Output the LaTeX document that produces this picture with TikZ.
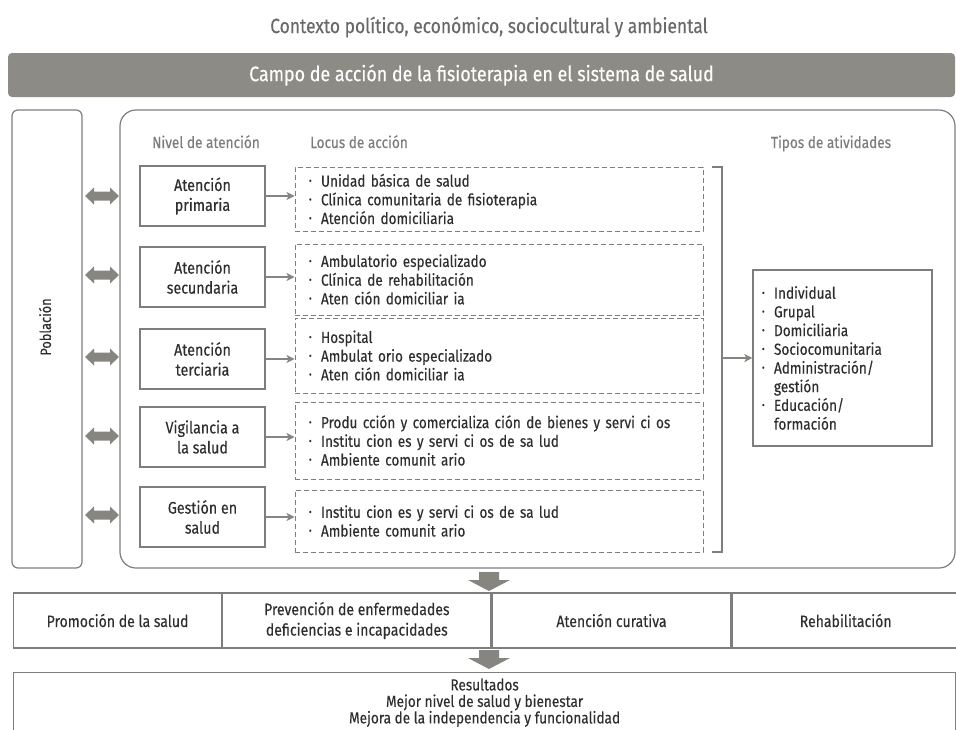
\documentclass[tikz,border=0pt]{standalone}
\usepackage{fontspec}
\setmainfont{Fira Sans}[FakeStretch=0.85, FakeBold=0.3]
\usetikzlibrary{arrows.meta,positioning}

\definecolor{barfill}{HTML}{8D8B85}
\definecolor{linegray}{HTML}{7E7E7E}
\definecolor{arrowgray}{HTML}{86857F}
\definecolor{txtgray}{HTML}{2E2E2E}
\definecolor{hdrgray}{HTML}{7C7C7C}

% bullet with fixed indent, and indent for a wrapped line
\newcommand{\bitem}{\makebox[12pt][l]{\raisebox{.3ex}{\scalebox{.6}{\textbullet}}}}
\newcommand{\bcont}{\hspace*{12pt}}

\tikzset{
  hdr/.style={text=hdrgray, font=\fontsize{16}{19}\selectfont, inner sep=0pt, anchor=base},
  lvlbox/.style={draw=linegray, line width=1.2pt, minimum width=125pt, minimum height=60pt,
    align=center, text=txtgray, font=\fontsize{16.8}{20}\selectfont},
  locbox/.style={draw=linegray, line width=0.9pt, dash pattern=on 5pt off 3pt,
    minimum width=408pt, text width=380pt, inner xsep=14pt, align=left,
    text=txtgray, font=\fontsize{16}{18.7}\selectfont},
  conn/.style={-{Stealth[length=8pt,width=8pt,inset=2pt]}, draw=arrowgray, line width=1.8pt},
  cell/.style={draw=linegray, line width=1.2pt, minimum height=55pt, inner sep=0pt,
    align=center, text=txtgray, font=\fontsize{16.5}{20.5}\selectfont},
  % block arrows
  dblarr/.pic={\fill[arrowgray] (-17,0) -- (-8,-8.5) -- (-8,-4.5) -- (8,-4.5) -- (8,-8.5)
    -- (17,0) -- (8,8.5) -- (8,4.5) -- (-8,4.5) -- (-8,8.5) -- cycle;},
  downarr/.pic={\fill[arrowgray] (-10,-9.5) -- (10,-9.5) -- (10,-1.5) -- (21,-1.5)
    -- (0,9.5) -- (-21,-1.5) -- (-10,-1.5) -- cycle;},
}

\begin{document}
\begin{tikzpicture}[x=1pt, y=-1pt]
\useasboundingbox (0,0) rectangle (956,729);

% context line and title bar
\node[text=hdrgray!85!black, font=\fontsize{20.5}{23}\selectfont] (ctx) at (489,27)
  {Contexto político, económico, sociocultural y ambiental};
\node[fill=barfill, rounded corners=4pt, minimum width=947pt, minimum height=44pt,
  text=white, font=\fontsize{21}{24}\selectfont] (campo) at (481.5,75)
  {Campo de acción de la fisioterapia en el sistema de salud};

% population column and the large frame
\node[draw=linegray, line width=1.2pt, rounded corners=6pt,
  minimum width=70pt, minimum height=458pt] (pob) at (47,339) {};
\node[rotate=90, text=txtgray, font=\fontsize{15}{18}\selectfont] (pobtxt) at (45,327) {Población};
\node[draw=linegray, line width=1.2pt, rounded corners=16pt,
  minimum width=835pt, minimum height=458pt] (area) at (537.5,339) {};

% column headers
\node[hdr] (hnivel) at (206,148) {Nivel de atención};
\node[hdr, anchor=base west] (hlocus) at (310,148) {Locus de acción};
\node[hdr] (htipos) at (831,148) {Tipos de atividades};

% levels of care
\node[lvlbox] (lv1) at (202.5,196) {Atención\\primaria};
\node[lvlbox] (lv2) at (202.5,277) {Atención\\secundaria};
\node[lvlbox] (lv3) at (202.5,359) {Atención\\terciaria};
\node[lvlbox] (lv4) at (202.5,437) {Vigilancia a\\la salud};
\node[lvlbox] (lv5) at (202.5,517) {Gestión en\\salud};

% two-way arrows between population and levels
\pic (pa1) at (102,196) {dblarr};
\pic (pa2) at (102,275) {dblarr};
\pic (pa3) at (102,357) {dblarr};
\pic (pa4) at (102,436) {dblarr};
\pic (pa5) at (102,515) {dblarr};

% places of action
\node[locbox, minimum height=64pt] (loc1) at (499,199)
  {\bitem Unidad básica de salud\\\bitem Clínica comunitaria de fisioterapia\\\bitem Atención domiciliaria};
\node[locbox, minimum height=71pt] (loc2) at (499,279.5)
  {\bitem Ambulatorio especializado\\\bitem Clínica de rehabilitación\\\bitem Aten ción domiciliar ia};
\node[locbox, minimum height=75pt] (loc3) at (499,355.5)
  {\bitem Hospital\\\bitem Ambulat orio especializado\\\bitem Aten ción domiciliar ia};
\node[locbox, minimum height=77pt] (loc4) at (499,440.5)
  {\bitem Produ cción y comercializa ción de bienes y servi ci os\\\bitem Institu cion es y servi ci os de sa lud\\\bitem Ambiente comunit ario};
\node[locbox, minimum height=62pt] (loc5) at (499,521)
  {\bitem Institu cion es y servi ci os de sa lud\\\bitem Ambiente comunit ario};

\draw[conn] (lv1.east) -- (lv1.east -| loc1.west);
\draw[conn] (lv2.east) -- (lv2.east -| loc2.west);
\draw[conn] (lv3.east) -- (lv3.east -| loc3.west);
\draw[conn] (lv4.east) -- (lv4.east -| loc4.west);
\draw[conn] (lv5.east) -- (lv5.east -| loc5.west);

% bracket gathering the places, and types of activities
\coordinate (brt) at (712,167);
\coordinate (brb) at (712,552);
\coordinate (brmid) at (722,358);
\draw[draw=linegray, line width=1.2pt] (brt) -- ++(10,0) |- (brb);
\node[draw=linegray, line width=1.2pt, minimum width=179pt, minimum height=176pt,
  text width=161pt, inner xsep=9pt, align=left, text=txtgray,
  font=\fontsize{16}{18.7}\selectfont] (acts) at (842.5,358)
  {\bitem Individual\\\bitem Grupal\\\bitem Domiciliaria\\\bitem Sociocomunitaria\\
   \bitem Administración/\\\bcont gestión\\\bitem Educación/\\\bcont formación};
\draw[conn] (brmid) -- (acts.west);

% fields of intervention
\pic (d1) at (489,581.5) {downarr};
\node[cell, minimum width=208pt, anchor=west] (promo) at (13,620.5) {Promoción de la salud};
\node[cell, minimum width=268pt, anchor=west] (prev) at (promo.east)
  {Prevención de enfermedades\\deficiencias e incapacidades};
\node[cell, minimum width=239pt, anchor=west] (cura) at (prev.east) {Atención curativa};
\node[cell, minimum width=227pt, anchor=west] (rehab) at (cura.east) {Rehabilitación};

% outcomes
\pic (d2) at (489,659.5) {downarr};
\node[cell, minimum width=942pt, minimum height=60pt, anchor=north west,
  font=\fontsize{16}{16.5}\selectfont] (res) at (13,672)
  {Resultados\\Mejor nivel de salud y bienestar\\Mejora de la independencia y funcionalidad};
\end{tikzpicture}
\end{document}
